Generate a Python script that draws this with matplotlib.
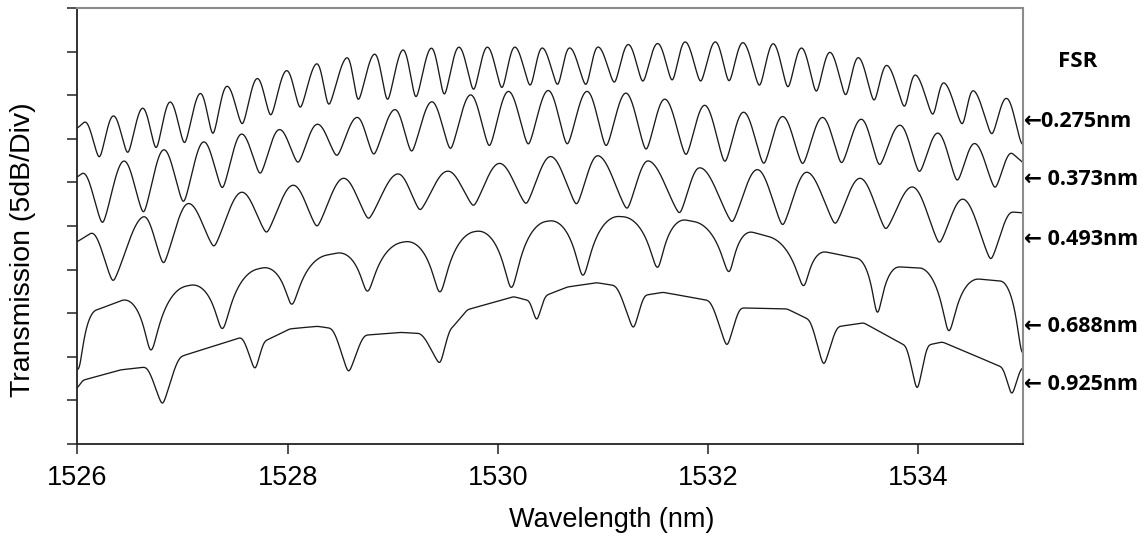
import numpy as np
import matplotlib
matplotlib.use("Agg")
import matplotlib.pyplot as plt

# ---------------- data (wavelength in nm, transmission in dB, 5 dB/div) ----------------
x_ticks = [1526, 1528, 1530, 1532, 1534]
fsr_labels = ["←0.275nm", "← 0.373nm", "← 0.493nm", "← 0.688nm", "← 0.925nm"]

# trace 1 : FSR 0.275 nm  (envelope = local maxima, dips = local minima)
t1_env_x = [1526.00, 1526.07, 1526.34, 1526.62, 1526.88, 1527.17, 1527.42, 1527.71, 1527.99,
            1528.28, 1528.57, 1528.83, 1529.10, 1529.37, 1529.63, 1529.90, 1530.16, 1530.42,
            1530.68, 1530.95, 1531.24, 1531.52, 1531.78, 1532.07, 1532.33, 1532.62, 1532.89,
            1533.16, 1533.43, 1533.70, 1533.97, 1534.24, 1534.52, 1534.84]
t1_env_y = [36.2, 37.0, 37.7, 38.6, 39.3, 40.3, 41.1, 42.0, 42.9, 43.7, 44.4, 44.8, 45.3, 45.5,
            45.6, 45.6, 45.6, 45.5, 45.5, 45.6, 45.9, 46.0, 46.2, 46.2, 46.1, 46.0, 45.5, 45.0,
            44.4, 43.5, 42.4, 41.5, 40.6, 39.7]
t1_dip_x = [1526.21, 1526.48, 1526.75, 1527.02, 1527.29, 1527.57, 1527.84, 1528.12, 1528.39,
            1528.67, 1528.95, 1529.22, 1529.49, 1529.77, 1530.04, 1530.31, 1530.57, 1530.84,
            1531.11, 1531.38, 1531.66, 1531.93, 1532.20, 1532.49, 1532.76, 1533.03, 1533.31,
            1533.58, 1533.87, 1534.14, 1534.42, 1534.70, 1534.99]
t1_dip_y = [32.6, 33.1, 33.6, 34.2, 35.2, 36.4, 37.4, 38.3, 38.6, 39.1, 39.1, 39.4, 39.7, 40.3,
            40.5, 40.8, 40.9, 40.9, 41.2, 41.3, 41.4, 41.3, 41.3, 40.8, 40.6, 40.1, 39.7, 39.1,
            38.4, 37.5, 36.4, 35.3, 34.1]

# trace 2 : FSR 0.373 nm
t2_env_x = [1526.00, 1526.05, 1526.44, 1526.82, 1527.20, 1527.56, 1527.92, 1528.28, 1528.66,
            1529.02, 1529.37, 1529.74, 1530.10, 1530.48, 1530.85, 1531.22, 1531.59, 1531.97,
            1532.34, 1532.71, 1533.09, 1533.46, 1533.83, 1534.19, 1534.54, 1534.89, 1535.00]
t2_env_y = [30.6, 31.1, 32.5, 33.8, 34.7, 35.6, 36.1, 36.7, 37.5, 38.4, 39.3, 40.1, 40.5, 40.6,
            40.5, 40.3, 39.6, 38.9, 38.1, 37.6, 37.5, 37.3, 36.6, 35.7, 34.5, 33.4, 32.2]
t2_dip_x = [1526.24, 1526.63, 1527.01, 1527.38, 1527.74, 1528.10, 1528.47, 1528.82, 1529.18,
            1529.55, 1529.92, 1530.29, 1530.66, 1531.03, 1531.41, 1531.79, 1532.16, 1532.53,
            1532.90, 1533.27, 1533.63, 1534.01, 1534.37, 1534.73]
t2_dip_y = [25.1, 26.3, 27.5, 29.1, 30.8, 32.1, 32.9, 33.0, 33.3, 33.6, 33.9, 34.1, 34.1, 33.9,
            33.5, 32.9, 32.1, 31.9, 31.9, 32.0, 31.8, 31.0, 30.0, 29.2]

# trace 3 : FSR 0.493 nm
t3_env_x = [1526.00, 1526.13, 1526.63, 1527.05, 1527.56, 1528.05, 1528.53, 1529.05, 1529.52,
            1530.01, 1530.50, 1530.95, 1531.43, 1531.92, 1532.47, 1532.94, 1533.45, 1533.95,
            1534.43, 1534.90, 1535.00]
t3_env_y = [23.2, 24.2, 26.1, 27.6, 28.9, 29.7, 30.5, 31.0, 31.3, 32.2, 33.0, 33.1, 32.5, 31.7,
            31.5, 31.2, 30.5, 29.5, 28.1, 26.6, 26.5]
t3_dip_x = [1526.34, 1526.82, 1527.30, 1527.80, 1528.28, 1528.77, 1529.26, 1529.77, 1530.27,
            1530.75, 1531.23, 1531.73, 1532.23, 1532.71, 1533.21, 1533.69, 1534.20, 1534.69]
t3_dip_y = [18.5, 20.5, 22.5, 24.1, 24.8, 25.7, 26.7, 27.2, 27.4, 27.3, 26.8, 26.3, 25.3, 24.9,
            25.1, 24.5, 22.9, 21.0]

# trace 4 : FSR 0.688 nm
t4_env_x = [1526.19, 1526.43, 1527.07, 1527.76, 1528.47, 1529.12, 1529.80, 1530.50, 1531.14,
            1531.78, 1532.42, 1533.13, 1533.42, 1533.83, 1534.02, 1534.59, 1534.78]
t4_env_y = [15.4, 16.5, 18.2, 20.2, 21.9, 23.2, 24.4, 25.6, 26.1, 25.7, 24.3, 22.0, 21.3, 20.3,
            20.2, 18.9, 18.7]
t4_dip_x = [1526.01, 1526.70, 1527.38, 1528.04, 1528.76, 1529.45, 1530.13, 1530.81, 1531.52,
            1532.20, 1532.91, 1533.61, 1534.29, 1534.99]
t4_dip_y = [8.3, 10.6, 13.1, 15.9, 17.4, 17.3, 17.8, 19.2, 20.1, 19.6, 18.0, 14.8, 12.8, 10.2]

# trace 5 : FSR 0.925 nm
t5_env_x = [1526.00, 1526.05, 1526.41, 1526.63, 1527.00, 1527.55, 1527.80, 1528.02, 1528.28,
            1528.40, 1528.76, 1529.07, 1529.23, 1529.57, 1529.71, 1530.15, 1530.28, 1530.47,
            1530.66, 1530.94, 1531.10, 1531.42, 1531.57, 1531.99, 1532.33, 1532.75, 1532.94,
            1533.26, 1533.48, 1533.86, 1534.11, 1534.23, 1534.78, 1535.00]
t5_env_y = [6.4, 7.3, 8.5, 8.8, 10.1, 12.2, 11.9, 13.2, 13.5, 13.3, 12.5, 12.8, 12.7, 13.4, 15.4,
            16.9, 16.5, 17.1, 18.0, 18.5, 18.2, 17.1, 17.4, 16.5, 15.6, 15.5, 14.4, 13.5, 13.9,
            11.4, 11.4, 11.7, 8.9, 8.8]
t5_dip_x = [1526.81, 1527.69, 1528.58, 1529.45, 1530.37, 1531.29, 1532.18, 1533.10, 1533.99,
            1534.89]
t5_dip_y = [4.4, 8.4, 8.1, 9.1, 14.0, 13.1, 11.1, 8.9, 6.0, 5.5]

# (env_x, env_y, dip_x, dip_y, profile kind, profile parameter, max half-width in nm)
traces = [
    (t1_env_x, t1_env_y, t1_dip_x, t1_dip_y, "mix", 0.5, 0.20),
    (t2_env_x, t2_env_y, t2_dip_x, t2_dip_y, "mix", 0.5, 0.25),
    (t3_env_x, t3_env_y, t3_dip_x, t3_dip_y, "mix", 0.55, 0.35),
    (t4_env_x, t4_env_y, t4_dip_x, t4_dip_y, "log", 0.95, 0.33),
    (t5_env_x, t5_env_y, t5_dip_x, t5_dip_y, "mix", 0.6, 0.25),
]


def dip_profile(u, kind, p):
    if kind == "log":
        t = 1.0 - p * np.cos(np.pi * u / 2.0) ** 2
        return np.log(t) / np.log(1.0 - p)
    return p * (1.0 - np.sin(np.pi * u / 2.0)) + (1.0 - p) * np.cos(np.pi * u / 2.0) ** 2


def build_trace(x, env_x, env_y, dip_x, dip_y, kind, p, maxw):
    env_x = np.asarray(env_x)
    env_y = np.asarray(env_y)
    y = np.interp(x, env_x, env_y)
    for xd, yd in zip(dip_x, dip_y):
        lefts = env_x[env_x < xd]
        rights = env_x[env_x > xd]
        wl = xd - lefts.max() if lefts.size else None
        wr = rights.min() - xd if rights.size else None
        if wl is None:
            wl = wr
        if wr is None:
            wr = wl
        wl = min(wl, maxw)
        wr = min(wr, maxw)
        depth = np.interp(xd, env_x, env_y) - yd
        u = np.where(x < xd, (xd - x) / wl, (x - xd) / wr)
        m = u < 1
        y[m] -= depth * dip_profile(u[m], kind, p)
    # light smoothing, like the finite resolution of the recorded spectrum
    k = np.arange(-30, 31)
    ker = np.exp(-0.5 * (k / 9.0) ** 2)
    ker /= ker.sum()
    yp = np.concatenate([np.full(30, y[0]), y, np.full(30, y[-1])])
    return np.convolve(yp, ker, mode="valid")


# ---------------- figure ----------------
fig = plt.figure(figsize=(11.46, 5.41), dpi=100)
ax = fig.add_axes([0.0675, 0.1793, 0.8255, 0.8059])

x = np.linspace(1526.0, 1535.0, 6000)
for env_x, env_y, dip_x, dip_y, kind, p, maxw in traces:
    ax.plot(x, build_trace(x, env_x, env_y, dip_x, dip_y, kind, p, maxw),
            color="#1a1a1a", lw=0.95, solid_joinstyle="round")

ax.set_xlim(1526, 1535)
ax.set_ylim(0, 50)
ax.set_xticks(x_ticks)
ax.set_xticklabels([str(t) for t in x_ticks], fontfamily="Liberation Sans", fontsize=19.5)
ax.set_yticks(np.arange(0, 51, 5))
ax.set_yticklabels([])
ax.tick_params(axis="both", direction="out", length=7, width=1.1, color="#222222")
ax.tick_params(axis="x", pad=8)

for side in ("left", "bottom"):
    ax.spines[side].set_color("#222222")
    ax.spines[side].set_linewidth(1.3)
for side in ("top", "right"):
    ax.spines[side].set_color("#8c8c8c")
    ax.spines[side].set_linewidth(1.5)

fig.text(0.534, 0.0388, "Wavelength (nm)", ha="center", va="center",
         fontfamily="Liberation Sans", fontsize=19.5)
fig.text(0.020, 0.5379, "Transmission (5dB/Div)", ha="center", va="center", rotation=90,
         fontfamily="Liberation Sans", fontsize=20.5)

fig.text(0.9407, 0.8854, "FSR", ha="center", va="center", fontweight="bold",
         family=["Open Sans", "DejaVu Sans"], fontsize=16)
label_y = [0.7745, 0.6673, 0.5564, 0.3974, 0.2902]
for lab, yy in zip(fsr_labels, label_y):
    fig.text(0.8935, yy, lab, ha="left", va="center", fontweight="bold",
             family=["Open Sans", "DejaVu Sans"], fontsize=15.5)

fig.savefig("out.png", dpi=100)
